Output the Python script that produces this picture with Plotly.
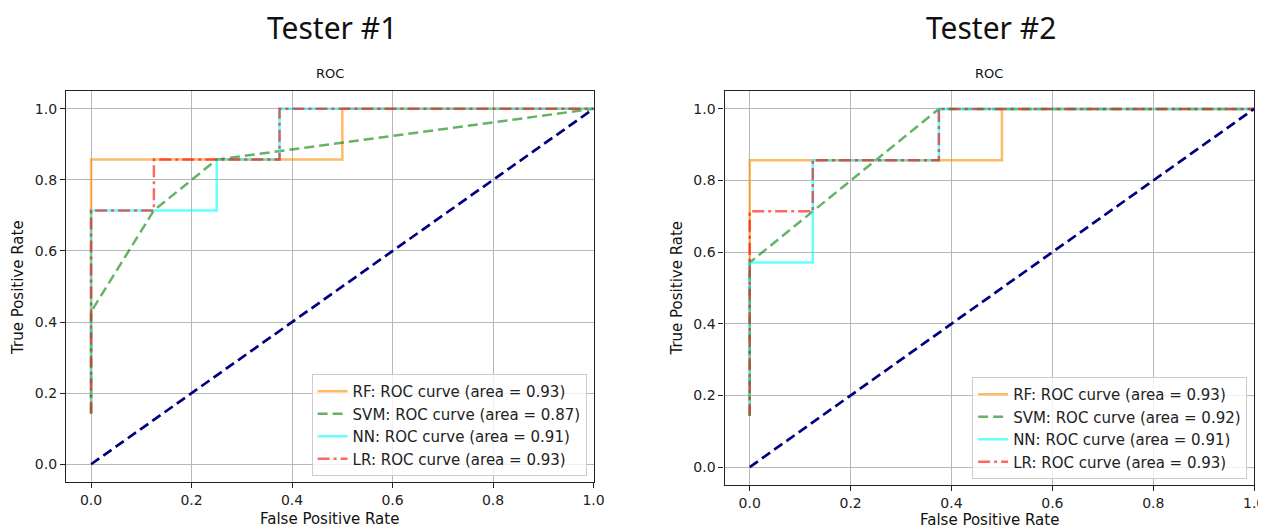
import plotly.graph_objects as go

# empirical page mapping: body margin 8px, slight horizontal squeeze of the page
OFF = 8
SX = 0.992
W, H = 1266, 529 - OFF

# ---------------- data ----------------
tick_vals = [0.0, 0.2, 0.4, 0.6, 0.8, 1.0]

# Tester #1
t1_rf_fpr = [0.0, 0.0, 0.5, 0.5, 1.0]
t1_rf_tpr = [0.143, 0.857, 0.857, 1.0, 1.0]
t1_svm_fpr = [0.0, 0.0, 0.125, 0.25, 1.0]
t1_svm_tpr = [0.143, 0.429, 0.714, 0.857, 1.0]
t1_nn_fpr = [0.0, 0.0, 0.25, 0.25, 0.375, 0.375, 1.0]
t1_nn_tpr = [0.143, 0.714, 0.714, 0.857, 0.857, 1.0, 1.0]
t1_lr_fpr = [0.0, 0.0, 0.125, 0.125, 0.375, 0.375, 1.0]
t1_lr_tpr = [0.143, 0.714, 0.714, 0.857, 0.857, 1.0, 1.0]
t1_auc = {"RF": 0.93, "SVM": 0.87, "NN": 0.91, "LR": 0.93}

# Tester #2
t2_rf_fpr = [0.0, 0.0, 0.5, 0.5, 1.0]
t2_rf_tpr = [0.143, 0.857, 0.857, 1.0, 1.0]
t2_svm_fpr = [0.0, 0.0, 0.375, 1.0]
t2_svm_tpr = [0.143, 0.571, 1.0, 1.0]
t2_nn_fpr = [0.0, 0.0, 0.125, 0.125, 0.375, 0.375, 1.0]
t2_nn_tpr = [0.143, 0.571, 0.571, 0.857, 0.857, 1.0, 1.0]
t2_lr_fpr = [0.0, 0.0, 0.125, 0.125, 0.375, 0.375, 1.0]
t2_lr_tpr = [0.143, 0.714, 0.714, 0.857, 0.857, 1.0, 1.0]
t2_auc = {"RF": 0.93, "SVM": 0.92, "NN": 0.91, "LR": 0.93}

diag_x = [0.0, 1.0]
diag_y = [0.0, 1.0]

# ---------------- styles ----------------
styles = {
    "RF": dict(color="rgba(255,140,0,0.6)", width=2.5, dash="solid"),
    "SVM": dict(color="rgba(0,128,0,0.6)", width=2.5, dash="10px,5px"),
    "NN": dict(color="rgba(0,255,255,0.6)", width=2.5, dash="solid"),
    "LR": dict(color="rgba(255,0,0,0.6)", width=2.5, dash="12px,4px,3px,4px"),
}

fig = go.Figure()

def add_panel(fig, series, auc, xa, ya, legend):
    for name, (fx, ty) in series.items():
        fig.add_trace(go.Scatter(
            x=fx, y=ty, mode="lines", line=styles[name],
            name=f"{name}: ROC curve (area = {auc[name]:.2f})",
            xaxis=xa, yaxis=ya, legend=legend, showlegend=True,
        ))
    fig.add_trace(go.Scatter(
        x=diag_x, y=diag_y, mode="lines",
        line=dict(color="navy", width=2.7, dash="10px,5px"),
        xaxis=xa, yaxis=ya, showlegend=False, legend=legend,
    ))

add_panel(fig, {"RF": (t1_rf_fpr, t1_rf_tpr), "SVM": (t1_svm_fpr, t1_svm_tpr),
                "NN": (t1_nn_fpr, t1_nn_tpr), "LR": (t1_lr_fpr, t1_lr_tpr)},
          t1_auc, "x", "y", "legend")
add_panel(fig, {"RF": (t2_rf_fpr, t2_rf_tpr), "SVM": (t2_svm_fpr, t2_svm_tpr),
                "NN": (t2_nn_fpr, t2_nn_tpr), "LR": (t2_lr_fpr, t2_lr_tpr)},
          t2_auc, "x2", "y2", "legend2")

tickfont = dict(family="DejaVu Sans", size=14, color="#222")

def px_x(p):
    return ((p - OFF) / SX) / W

def px_y(p):
    return 1 - (p - OFF) / H

def axis(domain, rng, anchor):
    return dict(
        domain=domain, range=rng, anchor=anchor,
        tickvals=tick_vals, tickformat=".1f", tickfont=tickfont,
        ticks="outside", ticklen=5, tickcolor="#222", tickwidth=1.2,
        showgrid=True, gridcolor="#b8b8b8", gridwidth=1.2,
        showline=True, linecolor="#222", linewidth=1.2, mirror=True,
        zeroline=False, fixedrange=True,
    )

x1d = [px_x(66), px_x(594)]
x2d = [px_x(725), px_x(1255)]
y1d = [px_y(482), px_y(91)]
y2d = [px_y(485), px_y(91)]

legend_common = dict(
    bgcolor="rgba(255,255,255,0.8)", bordercolor="#cccccc", borderwidth=1,
    font=dict(family="DejaVu Sans", size=15, color="#222"),
    xanchor="right", yanchor="bottom", tracegroupgap=0, itemwidth=30,
)

fig.update_layout(
    width=W, height=H, margin=dict(l=0, r=0, t=0, b=0),
    paper_bgcolor="white", plot_bgcolor="white",
    xaxis=axis(x1d, [-0.05, 1.0], "y"),
    yaxis=axis(y1d, [-0.05, 1.05], "x"),
    xaxis2=axis(x2d, [-0.05, 1.0], "y2"),
    yaxis2=axis(y2d, [-0.05, 1.05], "x2"),
    legend=dict(x=px_x(587), y=px_y(476), **legend_common),
    legend2=dict(x=px_x(1248), y=px_y(479), **legend_common),
)

def ann(text, x, y, size, family="DejaVu Sans", angle=0):
    fig.add_annotation(text=text, x=px_x(x), y=px_y(y), xref="paper", yref="paper",
                       showarrow=False, textangle=angle,
                       font=dict(family=family, size=size, color="#111"),
                       xanchor="center", yanchor="middle")

ann("Tester #1", 332, 28, 30, family="Noto Sans")
ann("Tester #2", 992, 28, 30, family="Noto Sans")
ann("ROC", 330, 74, 13)
ann("ROC", 990, 74, 13)
ann("False Positive Rate", 330, 519, 15)
ann("False Positive Rate", 990, 520, 15)
ann("True Positive Rate", 18, 287, 15, angle=-90)
ann("True Positive Rate", 677, 288, 15, angle=-90)

fig.write_html("out.html")
